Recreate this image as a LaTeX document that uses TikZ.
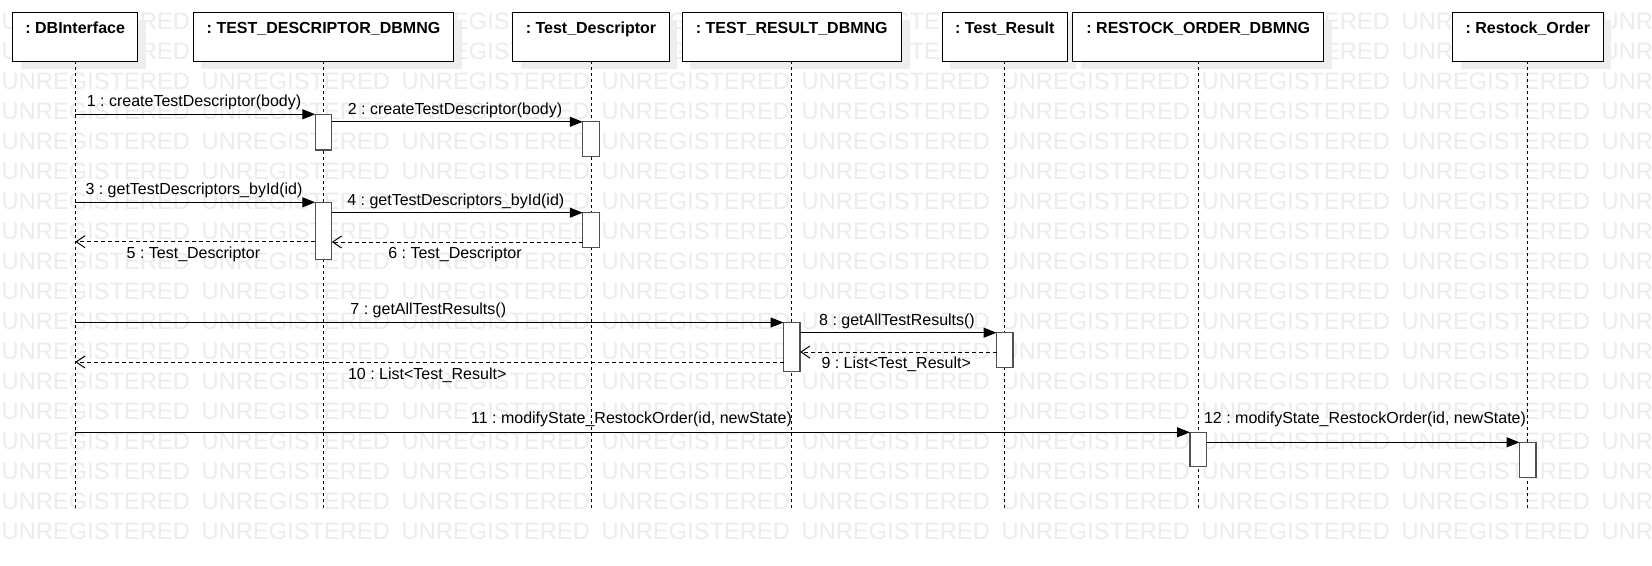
\documentclass[tikz,border=0pt]{standalone}
\usepackage{fontspec}
\setmainfont{Liberation Sans}
\usetikzlibrary{arrows.meta,calc,shadows}
\definecolor{wmgray}{RGB}{236,236,236}
\definecolor{shadowgray}{RGB}{238,238,238}
\definecolor{actborder}{RGB}{80,80,80}
\frenchspacing
\begin{document}
\begin{tikzpicture}[x=1pt,y=-1pt,
  every node/.style={inner sep=0pt,outer sep=0pt},
  wm/.style={anchor=base west,text=wmgray,font=\fontsize{23.7}{24}\selectfont},
  objbox/.style={draw=black,line width=1.1pt,fill=white,minimum height=49pt,
    general shadow={fill=shadowgray,draw=none,shadow xshift=8pt,shadow yshift=-8pt}},
  title/.style={anchor=base,font=\fontsize{16}{18}\selectfont\bfseries},
  lifeline/.style={draw=black,line width=0.9pt,dash pattern=on 3pt off 3pt},
  act/.style={draw=actborder,line width=1.3pt,fill=white,minimum width=16.5pt},
  call/.style={draw=black,line width=1.2pt,-{Triangle[length=13pt,width=10pt]}},
  ret/.style={draw=black,line width=1pt,dash pattern=on 4pt off 3pt,-{Straight Barb[length=9pt,width=12pt,line width=1pt]}},
  msg/.style={anchor=base,font=\fontsize{16}{18}\selectfont}
]
\path[fill=white,use as bounding box] (0,0) rectangle (1652,565);

% watermark
\foreach \k in {0,...,17}{
  \foreach \j in {0,...,8}{
    \node[wm] (wm-\j-\k) at ({1.7+200*\j},{29.7+30*\k}) {UNREGISTERED};
  }
}

% object boxes
\node[objbox,minimum width=125pt]   (b1) at (75.2,36.8) {};
\node[objbox,minimum width=260.8pt] (b2) at (323.5,36.8) {};
\node[objbox,minimum width=156.3pt] (b3) at (591,36.8) {};
\node[objbox,minimum width=219.4pt] (b4) at (791.8,36.8) {};
\node[objbox,minimum width=125.4pt] (b5) at (1004.8,36.8) {};
\node[objbox,minimum width=251pt]   (b6) at (1198.3,36.8) {};
\node[objbox,minimum width=150.6pt] (b7) at (1527.8,36.8) {};

\node[title] (t1) at ($(b1.north)+(0,21)$) {: DBInterface};
\node[title] (t2) at ($(b2.north)+(0,21)$) {: TEST\_DESCRIPTOR\_DBMNG};
\node[title] (t3) at ($(b3.north)+(0,21)$) {: Test\_Descriptor};
\node[title] (t4) at ($(b4.north)+(0,21)$) {: TEST\_RESULT\_DBMNG};
\node[title] (t5) at ($(b5.north)+(0,21)$) {: Test\_Result};
\node[title] (t6) at ($(b6.north)+(0,21)$) {: RESTOCK\_ORDER\_DBMNG};
\node[title] (t7) at ($(b7.north)+(0,21)$) {: Restock\_Order};

% lifelines
\coordinate (lend) at (0,508);
\foreach \b in {b1,b2,b3,b4,b5,b6,b7}{
  \draw[lifeline] (\b.south) -- (\b.south |- lend);
}

% activations
\node[act,minimum height=35.7pt] (a1)  at (b2 |- 0,132.15) {};
\node[act,minimum height=34.9pt] (a2)  at (b3 |- 0,139.25) {};
\node[act,minimum height=57pt]   (a3)  at (b2 |- 0,230.8) {};
\node[act,minimum height=34.6pt] (a4)  at (b3 |- 0,230) {};
\node[act,minimum height=49.2pt] (a7)  at (b4 |- 0,347.1) {};
\node[act,minimum height=34.6pt] (a8)  at (b5 |- 0,350) {};
\node[act,minimum height=34.4pt] (a11) at (b6 |- 0,449.5) {};
\node[act,minimum height=35pt]   (a12) at (b7 |- 0,459.8) {};

% messages
\coordinate (s1) at (b1 |- 0,114.3);
\draw[call] (s1) -- (a1.north west);
\draw[call] (a1.east |- a2.north) -- (a2.north west);
\coordinate (s3) at (b1 |- 0,202.3);
\draw[call] (s3) -- (a3.north west);
\draw[call] (a3.east |- a4.north) -- (a4.north west);
\coordinate (r6s) at ($(a4.south west)+(0,-5.3)$);
\draw[ret] (r6s) -- (r6s -| a3.east);
\coordinate (r5s) at ($(a3.south west)+(0,-17.6)$);
\draw[ret] (r5s) -- (r5s -| b1);
\coordinate (s7) at (b1 |- 0,322.5);
\draw[call] (s7) -- (a7.north west);
\draw[call] (a7.east |- a8.north) -- (a8.north west);
\coordinate (r9s) at ($(a8.south west)+(0,-15.3)$);
\draw[ret] (r9s) -- (r9s -| a7.east);
\coordinate (r10s) at ($(a7.south west)+(0,-9.7)$);
\draw[ret] (r10s) -- (r10s -| b1);
\coordinate (s11) at (b1 |- 0,432.3);
\draw[call] (s11) -- (a11.north west);
\draw[call] (a11.east |- a12.north) -- (a12.north west);

% labels
\node[msg] (l1)  at (194,106.7)   {1 : createTestDescriptor(body)};
\node[msg] (l2)  at (455,114.3)   {2 : createTestDescriptor(body)};
\node[msg] (l3)  at (194,194)     {3 : getTestDescriptors\_byId(id)};
\node[msg] (l4)  at (455.8,205.5) {4 : getTestDescriptors\_byId(id)};
\node[msg] (l5)  at (193.4,258)   {5 : Test\_Descriptor};
\node[msg] (l6)  at (455,258)     {6 : Test\_Descriptor};
\node[msg] (l7)  at (428.3,314)   {7 : getAllTestResults()};
\node[msg] (l8)  at (897,325)     {8 : getAllTestResults()};
\node[msg] (l9)  at (896.2,368)   {9 : List<Test\_Result>};
\node[msg] (l10) at (427.2,379)   {10 : List<Test\_Result>};
\node[msg] (l11) at (631.5,423.3) {11 : modifyState\_RestockOrder(id, newState)};
\node[msg] (l12) at (1365,423.3)  {12 : modifyState\_RestockOrder(id, newState)};
\end{tikzpicture}
\end{document}
